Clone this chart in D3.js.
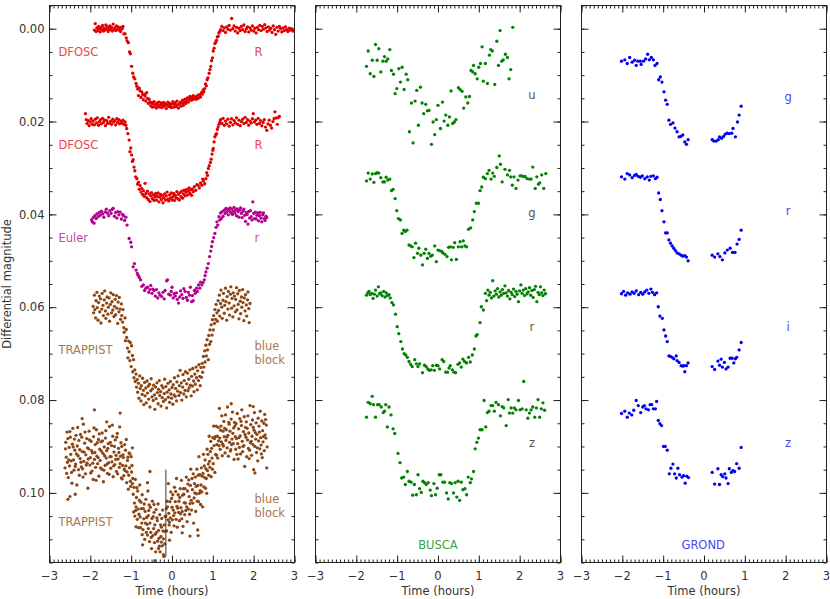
<!DOCTYPE html>
<html><head><meta charset="utf-8">
<script src="https://cdn.jsdelivr.net/npm/d3@7"></script>
<style>body{margin:0;background:#fff}svg{display:block}</style>
</head><body>
<svg id="chart" width="830" height="599"></svg>
<script>
// ---- axis ticks ----
const xTicks=[-3,-2,-1,0,1,2,3];
const xTickLabels=["\u22123","\u22122","\u22121","0","1","2","3"];
const yTickValues=[0,20,40,60,80,100];            // milli-magnitudes
const yTickLabels=["0.00","0.02","0.04","0.06","0.08","0.10"];

// ---- data: flat pairs [time (hours), differential magnitude (mmag)] ----
const dfoscR1=[-1.90,0.3,-1.88,-1.1,-1.86,0.6,-1.84,-0.2,-1.82,0.4,-1.80,-0.5,-1.78,0.1,-1.76,0.7,-1.74,-0.3,-1.72,0.2,-1.70,-0.7,-1.68,0.5,-1.66,-0.1,-1.64,0.3,-1.62,-0.8,-1.60,0.1,-1.58,-0.4,-1.56,0.6,-1.54,0.0,-1.52,-0.6,-1.50,0.2,-1.48,-0.3,-1.46,0.5,-1.44,-1.0,-1.42,0.1,-1.40,-0.2,-1.38,0.4,-1.36,-0.6,-1.34,0.2,-1.32,-0.4,-1.30,0.3,-1.28,-0.1,-1.26,0.6,-1.24,-0.3,-1.22,0.0,-1.20,-0.5,-1.18,1.1,
-1.15,1.1,-1.12,2.0,-1.10,2.6,-1.07,3.0,-1.04,5.0,-1.02,5.4,-0.99,8.1,-0.96,9.6,-0.94,10.4,-0.91,10.8,-0.88,11.8,-0.86,12.4,-0.84,13.0,-0.82,14.4,-0.80,12.8,-0.78,13.4,-0.76,14.8,-0.74,13.6,-0.72,14.2,-0.70,15.3,-0.68,14.1,-0.66,14.5,-0.64,15.6,-0.62,13.8,-0.60,15.0,-0.58,16.1,-0.56,15.2,-0.54,15.8,
-0.52,16.6,-0.50,15.9,-0.48,16.9,-0.46,16.2,-0.44,15.7,-0.42,16.8,-0.40,16.3,-0.38,17.1,-0.36,16.0,-0.34,16.6,-0.32,15.8,-0.30,16.9,-0.28,16.4,-0.26,16.0,-0.24,17.0,-0.22,16.5,-0.20,15.9,-0.18,16.7,-0.16,16.2,-0.14,17.2,-0.12,16.4,-0.10,15.8,-0.08,16.8,-0.06,16.1,-0.04,16.6,-0.02,17.0,0.00,16.2,0.02,15.7,0.04,16.9,0.06,16.3,0.08,16.0,0.10,16.8,0.12,15.6,0.14,16.4,0.16,17.1,0.18,16.2,0.20,15.8,0.22,16.7,0.24,16.0,0.26,15.4,0.28,16.5,0.30,15.9,0.32,15.2,0.34,16.1,0.36,15.5,0.38,14.9,0.40,15.8,0.42,15.1,0.44,14.6,0.46,15.4,0.48,14.8,0.50,15.3,0.52,14.4,0.54,15.0,
0.56,14.8,0.58,15.2,0.60,14.6,0.62,15.1,0.64,14.3,0.66,14.9,0.68,14.2,0.70,14.7,0.72,13.8,0.74,14.1,0.76,13.2,0.78,13.6,0.80,12.9,0.82,11.9,0.84,12.3,0.86,11.0,0.88,10.6,0.91,9.6,0.93,8.8,0.95,8.1,0.97,6.9,0.99,6.3,1.01,4.8,1.03,4.2,1.05,3.2,1.07,2.9,1.09,2.5,1.11,1.8,1.13,1.6,1.15,0.9,1.17,0.6,
1.19,0.2,1.22,-0.5,1.25,0.4,1.28,-0.2,1.31,0.8,1.34,-0.4,1.37,0.1,1.40,-0.7,1.43,0.3,1.46,-2.2,1.49,0.0,1.52,-0.6,1.55,0.5,1.58,-0.3,1.61,0.9,1.64,-0.1,1.67,0.4,1.70,-0.5,1.73,0.2,1.76,-0.8,1.79,0.6,1.82,0.0,1.85,-0.4,1.88,0.7,1.91,-0.2,1.94,0.3,1.97,-0.6,2.00,0.5,2.03,-0.1,2.06,0.9,2.09,-0.3,2.12,0.2,2.15,-0.7,2.18,0.4,2.21,-0.5,2.24,0.1,2.27,-0.9,2.30,-0.2,2.33,0.6,2.36,-0.4,2.39,0.3,2.42,-0.1,2.45,0.8,2.48,-0.6,2.51,0.2,2.54,1.2,2.57,-0.3,2.60,0.5,2.63,-0.5,2.66,0.0,2.69,0.7,2.72,-0.2,2.75,0.4,2.78,-0.4,2.81,0.2,2.84,0.6,2.87,-0.1,2.90,0.3,2.93,0.0,2.96,0.5];

const dfoscR2=[-2.12,18.3,-2.10,19.6,-2.08,20.4,-2.05,19.8,-2.03,20.9,-2.00,20.1,-1.98,19.4,-1.95,20.6,-1.93,19.9,-1.90,20.7,-1.88,19.5,-1.85,20.3,-1.83,19.2,-1.80,20.8,-1.78,20.0,-1.75,19.6,-1.73,20.5,-1.70,19.3,-1.68,20.2,-1.65,19.7,-1.63,20.9,-1.60,19.8,-1.58,20.4,-1.55,19.1,-1.53,20.3,-1.50,19.9,-1.48,20.6,-1.45,19.5,-1.43,20.1,-1.40,19.8,-1.38,20.7,-1.35,19.4,-1.33,20.2,-1.30,19.6,-1.28,20.5,-1.25,19.9,-1.23,20.3,-1.20,19.7,-1.18,20.6,-1.15,20.1,-1.13,20.8,
-1.11,21.5,-1.08,22.6,-1.05,24.0,-1.03,26.5,-1.01,25.7,-0.99,27.2,-0.97,28.6,-0.95,28.2,-0.93,29.8,-0.91,30.6,-0.89,31.9,-0.86,32.3,-0.84,33.5,-0.82,33.1,-0.80,34.6,-0.78,33.8,-0.76,35.2,-0.74,34.4,-0.72,35.7,-0.70,34.9,-0.68,36.1,-0.66,33.3,-0.64,35.5,
-0.62,36.4,-0.60,35.0,-0.58,36.8,-0.56,35.6,-0.54,37.2,-0.52,36.0,-0.50,35.3,-0.48,36.6,-0.46,35.8,-0.44,37.0,-0.42,36.2,-0.40,35.5,-0.38,36.9,-0.36,36.1,-0.34,35.4,-0.32,37.3,-0.30,36.3,-0.28,35.7,-0.26,36.8,-0.24,35.9,-0.22,37.5,-0.20,36.4,-0.18,35.6,-0.16,36.9,-0.14,36.0,-0.12,35.2,-0.10,36.7,-0.08,37.1,-0.06,35.8,-0.04,36.5,-0.02,35.4,0.00,36.9,0.02,36.2,0.04,35.5,0.06,37.0,0.08,35.9,0.10,36.4,0.12,35.1,0.14,36.6,0.16,35.7,0.18,36.9,0.20,35.3,0.22,36.2,0.24,35.0,0.26,36.5,0.28,35.6,0.30,34.8,0.32,36.0,0.34,35.2,0.36,34.6,0.38,35.8,0.40,35.0,0.42,34.3,0.44,35.5,0.46,34.7,0.48,35.9,0.50,34.5,
0.52,35.1,0.55,34.0,0.58,34.8,0.61,33.6,0.64,33.7,0.67,34.3,0.70,33.2,0.73,33.7,0.75,32.4,0.77,32.8,0.80,33.4,0.83,32.3,0.85,31.0,0.87,31.6,0.89,30.1,0.91,29.5,0.94,28.8,0.96,28.1,0.98,27.0,1.00,26.2,1.01,25.8,1.03,24.4,1.05,23.3,1.07,22.9,1.09,22.6,1.11,21.7,1.13,21.2,1.15,20.6,1.17,20.1,
1.19,19.6,1.22,20.4,1.25,19.3,1.28,20.8,1.31,19.9,1.34,20.5,1.37,19.5,1.40,21.0,1.43,20.2,1.46,19.4,1.49,20.7,1.52,19.8,1.55,20.3,1.58,19.2,1.61,20.6,1.64,19.7,1.67,20.9,1.70,20.0,1.73,19.5,1.76,20.4,1.79,19.1,1.82,20.2,1.85,19.6,1.88,20.8,1.91,19.9,1.94,20.3,1.97,19.4,1.99,18.3,2.02,20.1,2.05,19.7,2.08,20.6,2.11,19.3,2.14,20.4,2.17,19.8,2.20,20.9,2.23,20.2,2.26,19.6,2.29,21.2,2.32,21.9,2.35,20.5,2.38,19.7,2.41,20.8,2.44,21.4,2.47,20.0,2.50,19.4,2.52,17.9,2.55,19.2,2.58,20.6,2.60,19.2,2.63,18.9];

const eulerR=[-1.97,41.2,-1.95,41.6,-1.93,40.7,-1.91,41.9,-1.89,40.3,-1.86,40.9,-1.84,39.9,-1.81,40.5,-1.78,39.6,-1.76,40.2,-1.73,39.3,-1.70,39.9,-1.67,40.6,-1.64,39.5,-1.61,38.9,-1.58,39.7,-1.55,40.3,-1.52,39.2,-1.49,39.8,-1.46,38.9,-1.44,38.7,-1.41,40.4,-1.38,39.6,-1.35,40.8,-1.33,39.4,-1.30,40.1,-1.27,39.5,-1.24,41.0,-1.21,40.0,-1.19,40.3,-1.16,41.3,-1.13,40.6,-1.10,42.3,
-1.05,45.2,-1.01,46.0,-0.99,47.0,-0.95,51.3,-0.92,50.6,-0.88,52.0,-0.85,52.7,-0.83,53.1,-0.80,53.6,-0.77,54.1,-0.74,55.5,-0.70,55.2,-0.67,56.4,-0.64,55.9,
-0.60,55.7,-0.57,56.8,-0.54,56.2,-0.52,55.3,-0.49,57.0,-0.47,56.1,-0.44,56.4,-0.41,57.6,-0.38,56.2,-0.35,58.0,-0.32,56.9,-0.29,57.4,-0.25,57.7,-0.22,56.8,-0.19,58.2,-0.17,56.4,-0.13,54.3,-0.11,54.1,-0.08,57.2,-0.04,57.4,-0.02,56.6,0.00,55.7,0.03,58.0,0.05,57.1,0.08,57.6,0.11,56.9,0.13,58.3,0.16,59.1,0.19,57.8,0.21,56.5,0.24,57.3,0.27,58.1,0.29,56.0,0.32,56.6,0.35,57.9,0.38,58.5,0.40,56.8,0.43,57.4,0.45,55.7,0.48,58.8,0.50,57.5,0.52,58.6,0.55,56.4,0.57,57.0,0.60,55.9,0.62,56.6,0.65,55.2,0.68,55.9,0.70,54.6,0.73,55.2,
0.76,54.7,0.79,54.1,0.81,53.2,0.83,52.4,0.86,51.6,0.89,50.6,0.92,49.1,0.95,47.9,0.97,46.9,0.99,45.9,1.02,45.0,1.05,44.1,1.08,42.8,1.10,41.6,1.12,42.3,
1.15,40.5,1.17,41.2,1.19,39.7,1.21,40.9,1.23,39.4,1.25,40.4,1.28,39.1,1.30,39.8,1.32,38.7,1.34,39.5,1.36,38.9,1.38,40.1,1.40,39.2,1.42,38.6,1.44,39.6,1.46,38.8,1.48,40.0,1.50,39.3,1.52,38.5,1.54,39.7,1.56,39.0,1.58,40.3,1.60,38.8,1.62,39.4,1.64,40.6,1.66,39.1,1.68,38.6,1.70,39.8,1.72,40.7,1.74,39.3,1.76,38.9,1.78,40.2,1.80,41.5,1.82,39.6,1.84,40.0,1.86,42.1,1.88,39.4,1.90,40.8,1.92,39.2,1.94,40.5,1.96,41.2,1.98,37.3,2.00,39.8,2.02,40.9,2.04,39.5,2.06,41.0,2.08,40.2,2.10,39.7,2.12,41.4,2.14,40.3,2.16,39.6,2.18,40.8,2.20,41.6,2.22,40.1,2.24,39.7,2.26,40.9,2.28,41.3,2.30,40.4,2.32,40.7];

const trappistBB1=[-1.93,59.8,-1.92,61.2,-1.90,57.4,-1.89,60.5,-1.87,62.3,-1.86,58.6,-1.84,56.8,-1.83,60.1,-1.81,62.8,-1.80,59.0,-1.78,57.6,-1.77,61.0,-1.75,58.2,-1.74,63.4,-1.72,60.4,-1.71,57.0,-1.69,59.6,-1.68,61.8,-1.66,58.4,-1.65,56.5,-1.63,60.8,-1.62,62.4,-1.60,59.1,-1.59,57.8,-1.57,61.5,-1.56,60.0,-1.54,58.0,-1.53,63.0,-1.51,59.4,-1.50,56.9,-1.48,61.2,-1.47,58.8,-1.45,60.6,-1.44,57.3,-1.42,62.0,-1.41,59.8,-1.39,58.3,-1.38,61.6,-1.36,57.5,-1.35,60.2,-1.33,63.5,-1.32,58.9,-1.30,61.0,-1.29,57.9,-1.27,60.4,-1.26,62.6,-1.24,59.3,-1.23,61.8,-1.21,63.2,-1.20,60.5,-1.18,64.4,-1.17,65.4,-1.15,62.3,-1.14,67.2,-1.12,64.8,-1.11,66.5,-1.09,68.8,
-1.08,70.9,-1.06,67.3,-1.05,69.6,-1.03,71.5,-1.02,67.6,-1.00,72.8,-0.99,68.3,-0.97,70.4,-0.96,73.9,-0.94,71.3,-0.93,75.2,-0.91,73.5,-0.90,76.0,-0.88,74.4,-0.87,77.2,
-0.85,75.6,-0.84,78.3,-0.82,76.4,-0.81,79.6,-0.79,74.8,-0.78,77.5,-0.76,80.2,-0.75,76.9,-0.73,78.8,-0.72,75.3,-0.70,77.9,-0.69,81.0,-0.67,76.2,-0.66,79.1,-0.64,77.4,-0.63,80.6,-0.61,75.9,-0.60,78.5,-0.58,77.0,-0.57,79.8,-0.55,76.6,-0.54,81.5,-0.52,78.0,-0.51,75.4,-0.49,79.3,-0.48,77.6,-0.46,80.1,-0.45,76.8,-0.43,78.9,-0.42,82.0,-0.40,77.2,-0.39,79.7,-0.37,76.3,-0.36,78.4,-0.34,80.8,-0.33,77.7,-0.31,75.8,-0.30,79.0,-0.28,78.2,-0.27,81.3,-0.25,76.9,-0.24,79.5,-0.22,77.4,-0.21,80.3,-0.19,78.6,-0.18,75.5,-0.16,79.9,-0.15,77.1,-0.13,81.7,-0.12,78.3,-0.10,76.4,-0.09,79.4,-0.07,77.8,-0.06,80.5,-0.04,76.0,-0.03,78.7,-0.01,79.6,0.00,77.3,0.02,80.9,0.03,76.7,0.05,78.9,0.06,75.2,0.08,79.2,0.09,77.5,0.11,80.2,0.12,76.1,0.14,78.1,0.15,74.8,0.17,79.0,0.18,76.9,0.20,73.6,0.21,78.4,0.23,76.3,0.24,80.0,0.26,77.2,0.27,74.5,0.29,78.7,0.30,75.8,0.32,77.9,0.33,73.9,0.35,79.3,0.36,76.5,0.38,74.2,0.39,78.0,0.41,75.5,0.42,77.4,0.44,73.5,0.45,76.8,0.47,79.1,0.48,74.9,0.50,77.0,0.51,73.2,0.53,75.9,0.54,78.2,0.56,74.4,0.57,76.6,0.59,72.9,0.60,75.2,0.62,77.8,0.63,73.7,0.65,75.8,0.66,72.4,0.68,74.9,0.69,76.9,0.71,73.0,0.72,75.1,
0.74,72.1,0.75,74.0,0.77,70.6,0.78,72.9,0.80,69.4,0.81,71.8,0.83,68.2,0.84,70.5,0.86,67.0,0.87,69.2,0.89,71.3,0.90,66.1,0.92,68.0,0.93,64.9,0.95,67.4,0.96,63.8,0.98,66.0,0.99,62.7,1.01,64.9,1.02,61.8,1.04,63.5,1.05,60.5,1.07,62.6,1.08,59.4,1.10,61.2,1.11,63.0,1.13,58.6,
1.14,60.7,1.16,57.4,1.17,61.9,1.19,59.2,1.20,56.3,1.22,60.0,1.23,62.4,1.25,58.5,1.26,57.0,1.28,61.3,1.29,59.6,1.31,55.9,1.32,58.8,1.34,62.8,1.35,57.7,1.37,60.4,1.38,56.6,1.40,59.1,1.41,61.7,1.43,57.2,1.44,55.6,1.46,60.2,1.47,58.1,1.49,62.1,1.50,56.9,1.52,59.7,1.53,57.6,1.55,61.0,1.56,58.3,1.58,55.8,1.59,60.6,1.61,57.1,1.62,59.4,1.64,62.5,1.65,56.4,1.67,58.7,1.68,61.4,1.70,57.8,1.71,60.0,1.73,56.2,1.74,59.0,1.76,62.9,1.77,58.0,1.79,60.8,1.80,57.3,1.82,59.5,1.83,61.9,1.85,58.4,1.86,56.7,1.88,60.3,1.89,63.3,1.91,59.2];

const trappistBB2=[-2.62,94.6,-2.60,89.1,-2.59,92.3,-2.57,86.9,-2.56,93.4,-2.54,96.7,-2.52,90.2,-2.51,94.2,-2.49,88.0,-2.48,91.7,-2.46,95.6,-2.44,89.5,-2.43,86.1,-2.41,92.9,-2.40,95.1,-2.38,90.8,-2.36,93.8,-2.35,87.6,-2.33,98.3,-2.32,89.9,-2.30,92.0,-2.28,88.7,-2.27,96.2,-2.25,92.6,-2.24,87.4,-2.22,94.4,-2.20,91.1,-2.19,94.8,-2.17,85.2,-2.16,93.2,-2.14,89.3,-2.12,95.9,-2.11,91.8,-2.09,88.3,-2.08,93.6,-2.06,99.0,-2.04,90.5,-2.03,86.7,-2.01,94.0,-2.00,92.4,-1.98,88.9,-1.96,95.3,-1.95,91.4,-1.93,97.1,-1.92,87.9,-1.90,92.8,-1.88,89.6,-1.87,94.5,-1.85,86.4,-1.84,92.1,-1.82,93.7,-1.80,88.5,-1.79,96.4,-1.77,90.6,-1.76,93.0,-1.74,89.0,-1.72,94.9,-1.71,87.1,-1.69,91.5,-1.68,97.6,-1.66,90.1,-1.64,94.1,-1.63,88.2,-1.61,92.5,-1.60,90.9,-1.58,95.8,-1.56,89.4,-1.55,93.5,-1.53,85.7,-1.52,92.2,-1.50,94.7,-1.48,89.8,-1.47,93.3,-1.45,87.8,-1.44,96.5,-1.42,91.2,-1.40,93.9,-1.39,88.6,-1.37,91.9,-1.36,95.4,-1.34,87.2,-1.32,92.7,-1.31,90.4,-1.29,94.5,-1.28,85.8,-1.26,92.1,-1.24,96.8,-1.23,90.0,-1.21,94.1,-1.20,91.8,-1.18,96.3,-1.16,89.6,-1.15,95.2,-1.13,94.2,-1.12,88.5,-1.10,95.5,-1.08,92.3,-1.07,99.2,-1.05,91.4,-1.04,94.6,-1.02,97.5,-1.00,92.2,-0.99,95.5,-0.97,90.3,-0.96,96.9,
-2.61,90.5,-2.58,95.8,-2.55,88.3,-2.53,92.9,-2.50,86.8,-2.47,93.1,-2.45,97.9,-2.42,90.1,-2.39,88.4,-2.37,94.3,-2.34,91.6,-2.31,85.9,-2.29,95.0,-2.26,90.7,-2.23,93.4,-2.21,88.0,-2.18,96.6,-2.15,91.2,-2.13,86.9,-2.10,94.0,-2.07,90.3,-2.05,92.7,-2.02,88.6,-1.99,95.7,-1.97,90.9,-1.94,93.6,-1.91,86.0,-1.89,91.3,-1.86,97.3,-1.83,89.2,-1.81,92.4,-1.78,87.3,-1.75,94.6,-1.73,91.0,-1.70,88.8,-1.67,95.1,-1.65,92.0,-1.62,86.6,-1.59,93.8,-1.57,90.4,-1.54,96.0,-1.51,89.1,-1.49,92.2,-1.46,85.4,-1.43,94.2,-1.41,90.0,-1.38,92.8,-1.35,88.0,-1.33,95.9,-1.30,91.3,-1.27,93.7,-1.25,89.2,-1.22,97.0,-1.19,92.4,-1.17,94.9,-1.14,90.8,-1.11,97.8,-1.09,93.0,-1.06,96.2,-1.03,91.6,-1.01,98.6,-0.98,94.1,
-1.90,82.1,-2.55,101.4,-2.37,100.3,-1.27,82.8,-2.50,100.8,-2.20,84.0,-1.60,84.7,
-0.94,104.1,-0.93,98.8,-0.92,102.2,-0.90,97.1,-0.89,103.8,-0.88,107.3,-0.87,101.0,-0.85,105.7,-0.84,99.6,-0.83,103.5,-0.82,107.5,-0.80,101.6,-0.79,98.3,-0.78,105.2,-0.77,107.5,-0.75,103.4,-0.74,106.5,-0.73,100.4,-0.72,111.2,-0.70,103.4,-0.69,105.6,-0.68,102.4,-0.67,110.0,-0.65,106.5,-0.64,101.4,-0.63,108.5,-0.62,105.3,-0.60,109.1,-0.59,99.6,-0.58,107.7,-0.57,103.8,-0.55,110.5,-0.54,106.5,-0.53,103.1,-0.52,108.5,-0.50,112.0,-0.49,105.5,-0.48,101.8,-0.47,109.2,-0.45,107.7,-0.44,104.2,-0.43,110.7,-0.42,106.9,-0.40,112.7,-0.39,103.6,-0.38,108.5,-0.37,105.4,-0.35,110.4,-0.34,102.4,-0.33,108.1,-0.32,109.8,-0.30,104.7,-0.29,112.7,-0.28,106.9,-0.27,109.4,-0.25,105.5,-0.24,111.4,-0.23,103.7,-0.22,108.2,-0.20,113.7,-0.19,106.9,-0.18,111.0,-0.17,105.1,
-0.95,100.3,-0.91,105.0,-0.86,98.9,-0.81,104.6,-0.76,102.0,-0.71,107.9,-0.66,104.0,-0.61,106.8,-0.56,102.6,-0.51,109.6,-0.46,105.1,-0.41,108.9,-0.36,106.0,-0.31,111.5,-0.26,107.4,-0.21,109.9,-0.18,108.3,-0.88,103.0,-0.73,109.0,-0.58,104.9,-0.44,102.5,-0.33,112.0,-0.26,110.6,
-0.54,95.4,-0.97,98.0,-0.42,114.6,-0.21,113.3,-0.60,97.8,
-0.15,105.0,-0.14,103.4,-0.13,108.2,-0.12,101.8,-0.10,105.8,-0.09,98.0,-0.08,104.4,-0.07,106.9,-0.05,101.9,-0.04,105.4,-0.03,99.8,-0.02,108.5,0.00,103.1,0.01,105.8,0.02,100.4,0.03,103.7,0.05,107.1,0.06,98.8,0.07,104.3,0.08,101.9,0.10,105.7,0.11,96.9,0.12,102.9,0.13,107.4,0.15,100.4,0.16,104.2,0.17,101.8,0.18,106.0,0.20,99.1,0.21,104.5,0.22,103.2,0.23,97.3,0.25,104.0,0.26,100.5,0.27,107.2,0.28,99.1,0.30,102.1,0.31,104.7,0.32,99.1,0.33,102.2,0.35,96.6,0.36,103.0,0.37,106.2,0.38,99.6,0.40,103.5,0.41,97.2,0.42,100.8,0.43,104.6,0.45,98.4,0.46,94.9,0.47,101.6,0.48,103.7,0.50,99.3,0.51,102.2,0.52,95.9,0.53,106.5,0.55,98.0,0.56,100.0,0.57,96.6,0.58,104.0,0.60,100.2,0.61,94.9,0.62,101.8,0.63,98.4,0.65,101.9,0.66,92.2,0.67,100.1,0.68,96.1,0.70,102.5,0.71,98.3,0.72,94.6,0.73,99.8,0.75,103.0,
-0.11,103.0,-0.06,106.3,-0.01,101.2,0.04,104.9,0.09,99.7,0.14,103.3,0.19,101.0,0.24,105.6,0.29,100.3,0.34,103.8,0.39,98.1,0.44,102.3,0.49,96.9,0.54,101.1,0.59,98.6,0.64,96.2,0.69,99.5,0.74,96.4,
0.64,109.2,0.44,109.3,0.63,108.0,-0.06,110.2,0.25,108.6,
0.76,95.8,0.77,91.7,0.78,98.7,0.80,96.7,0.81,92.9,0.82,99.0,0.83,94.8,0.85,100.1,0.86,90.6,0.87,95.2,0.88,91.7,0.90,96.2,0.91,87.8,0.92,93.2,0.93,94.5,0.95,88.9,0.96,96.5,0.97,90.4,0.98,92.5,1.00,88.1,1.01,93.7,1.02,85.6,1.03,89.8,1.05,95.6,1.06,87.9,1.07,91.7,1.08,85.6,1.10,89.6,1.11,87.8,1.12,92.5,1.13,85.9,1.15,89.8,1.16,81.8,1.17,88.2,1.18,90.6,1.20,85.6,1.21,89.0,1.22,83.4,1.23,92.0,1.25,86.7,
1.26,89.9,1.27,84.6,1.28,87.9,1.30,91.4,1.31,83.2,1.32,88.7,1.33,86.4,1.35,90.3,1.36,81.5,1.37,87.6,1.38,92.1,1.40,85.2,1.41,89.1,1.42,86.7,1.43,91.0,1.45,84.1,1.46,89.6,1.47,88.4,1.48,82.6,1.50,89.4,1.51,86.0,1.52,92.8,1.53,84.8,1.55,87.9,1.56,90.6,1.57,85.1,1.58,88.3,1.60,82.9,1.61,89.4,1.62,92.7,1.63,86.2,1.65,90.2,1.66,84.0,1.67,87.7,1.68,91.6,1.70,85.5,1.71,82.1,1.72,88.9,1.73,91.1,1.75,86.8,1.76,89.8,1.77,83.6,1.78,94.3,1.80,85.9,1.81,88.0,1.82,84.7,1.83,92.2,1.85,88.6,1.86,83.4,1.87,90.4,1.88,87.1,1.90,90.8,1.91,81.2,1.92,89.2,1.93,85.3,1.95,91.9,1.96,87.8,1.97,84.3,1.98,89.6,2.00,95.0,2.01,86.5,2.02,82.7,2.03,90.0,2.05,88.4,2.06,84.9,2.07,91.3,2.08,87.4,2.10,93.1,2.11,83.9,2.12,88.8,2.13,85.6,2.15,90.5,2.16,82.4,2.17,88.1,2.18,89.7,2.20,84.5,2.21,92.4,2.22,86.6,2.23,89.0,2.25,85.0,2.26,90.9,2.27,83.1,2.28,87.5,2.30,88.2,2.31,85.4,2.33,90.1,
0.79,94.2,0.84,96.9,0.89,93.8,0.94,91.1,0.99,94.9,1.04,88.3,1.09,91.9,1.14,88.8,1.19,86.5,1.24,89.5,1.29,86.1,1.34,88.0,1.39,84.8,1.44,90.7,1.49,87.2,1.54,85.6,1.59,91.7,1.64,88.1,1.69,84.6,1.74,90.0,1.79,87.4,1.84,86.1,1.89,92.6,1.94,88.9,1.99,85.9,2.04,87.0,2.09,90.3,2.14,86.9,2.19,91.6,2.24,87.9,2.29,84.2,
1.99,81.4,2.03,95.7,2.32,94.6,1.45,80.8];

const buscaU=[-1.75,8.1,-1.71,4.8,-1.66,9.7,-1.61,6.8,-1.57,10.3,-1.53,3.4,-1.49,6.8,-1.45,4.3,-1.40,9.3,-1.35,7.0,-1.31,6.0,-1.27,7.0,-1.23,6.5,-1.18,4.5,-1.14,9.0,-1.09,9.8,-1.05,14.0,-1.01,12.9,-0.96,8.6,-0.92,11.5,-0.88,8.3,-0.83,13.1,-0.78,9.8,-0.74,11.0,-0.70,22.2,-0.65,16.0,-0.61,24.6,-0.56,15.6,-0.52,13.3,-0.48,20.8,-0.43,12.6,-0.39,16.0,-0.35,18.3,-0.30,16.3,-0.26,17.7,-0.22,17.6,-0.16,24.9,-0.12,20.1,-0.08,22.8,-0.04,19.6,0.00,16.5,0.06,21.5,0.11,15.8,0.15,19.9,0.19,18.6,0.24,20.8,0.28,19.0,0.32,13.4,0.36,20.4,0.40,20.1,0.44,19.6,0.50,12.7,0.54,13.1,0.59,13.5,0.63,17.1,0.68,14.7,0.73,16.0,0.77,14.6,0.81,9.0,0.85,9.3,0.87,7.9,0.91,9.7,0.96,10.8,1.00,8.3,1.04,7.5,1.08,3.9,1.11,11.3,1.16,7.5,1.21,11.8,1.26,5.7,1.29,4.5,1.33,4.8,1.39,12.0,1.44,2.7,1.48,7.9,1.52,0.4,1.56,7.0,1.60,6.7,1.65,5.5,1.70,6.2,1.74,10.8,1.78,8.8,1.83,-0.3];

const buscaG=[-1.75,32.8,-1.71,31.1,-1.66,32.4,-1.61,31.3,-1.57,33.1,-1.53,31.2,-1.49,31.0,-1.45,31.1,-1.40,32.1,-1.35,33.0,-1.31,33.0,-1.27,32.0,-1.23,32.6,-1.18,32.4,-1.14,34.9,-1.10,34.6,-1.05,36.6,-1.01,39.2,-0.97,40.9,-0.92,41.2,-0.88,44.1,-0.84,43.4,-0.80,43.7,-0.76,43.4,-0.71,46.6,-0.67,46.8,-0.63,47.0,-0.59,49.3,-0.55,46.2,-0.50,48.4,-0.47,47.3,-0.42,48.8,-0.38,50.9,-0.34,48.4,-0.30,47.5,-0.26,49.5,-0.22,48.4,-0.18,49.0,-0.14,48.8,-0.08,46.8,-0.04,50.2,0.00,47.7,0.04,47.8,0.09,48.0,0.12,48.3,0.17,48.6,0.22,49.1,0.26,47.1,0.30,47.0,0.33,49.8,0.37,47.1,0.41,46.1,0.45,49.7,0.50,47.0,0.54,45.9,0.58,47.0,0.62,45.7,0.66,46.8,0.70,47.0,0.75,43.2,0.80,42.9,0.85,41.2,0.89,39.4,0.94,37.6,0.99,37.6,1.03,34.9,1.07,34.1,1.11,32.0,1.16,32.3,1.21,31.2,1.25,30.5,1.30,32.4,1.34,31.1,1.38,31.8,1.44,29.9,1.50,27.4,1.53,29.2,1.57,33.0,1.64,30.3,1.70,31.5,1.75,30.5,1.78,31.9,1.82,33.7,1.86,31.9,1.91,34.4,1.96,32.6,2.01,31.7,2.05,31.7,2.10,31.9,2.13,31.8,2.18,32.3,2.24,32.4,2.28,32.4,2.32,29.8,2.38,34.4,2.42,31.9,2.46,33.5,2.49,33.2,2.54,31.5,2.59,34.4,2.64,31.2];

const buscaR=[-1.75,57.4,-1.72,56.9,-1.69,56.6,-1.66,57.3,-1.62,57.0,-1.59,58.1,-1.56,57.2,-1.53,56.3,-1.49,57.6,-1.46,55.6,-1.43,57.1,-1.40,56.9,-1.37,57.5,-1.33,56.6,-1.30,57.8,-1.27,56.9,-1.24,57.5,-1.20,57.3,-1.17,58.0,
-1.13,59.0,-1.09,59.5,-1.04,61.5,-1.00,64.2,-0.96,65.7,-0.91,67.4,-0.87,69.0,-0.83,70.0,-0.79,70.3,-0.75,70.8,-0.71,71.7,-0.67,72.3,-0.63,72.8,-0.57,71.3,-0.53,72.2,-0.49,72.8,-0.45,72.2,-0.38,74.1,-0.33,72.5,-0.29,72.8,-0.25,73.3,-0.21,73.6,-0.17,73.5,-0.13,72.6,-0.09,73.6,-0.04,72.5,0.00,72.6,0.04,73.3,0.10,71.3,0.14,71.7,0.19,74.0,0.23,74.0,0.27,73.1,0.30,72.6,0.35,73.5,0.39,74.0,0.43,74.1,0.49,72.3,0.53,72.0,0.57,72.9,0.61,71.2,0.65,71.7,0.70,72.0,0.75,70.8,0.79,71.8,0.84,70.3,0.89,69.0,0.93,66.2,0.96,65.9,1.03,63.3,1.06,59.9,1.11,60.6,
1.16,57.0,1.19,58.6,1.22,56.3,1.25,57.4,1.28,56.8,1.31,58.0,1.34,54.3,1.37,57.6,1.40,56.5,1.43,57.2,1.46,56.0,1.49,57.8,1.52,56.7,1.55,57.4,1.58,56.2,1.61,57.0,1.64,55.4,1.67,56.9,1.70,57.6,1.73,56.4,1.76,58.2,1.79,56.8,1.82,57.3,1.85,56.1,1.88,57.7,1.91,56.6,1.94,57.2,1.97,58.8,2.00,56.5,2.03,55.2,2.06,57.0,2.09,56.3,2.12,57.5,2.15,56.0,2.18,57.1,2.21,56.7,2.24,55.8,2.27,57.4,2.30,56.4,2.33,57.9,2.36,56.2,2.39,55.5,2.42,58.8,2.45,56.8,2.48,57.3,2.51,55.6,2.54,56.9,2.57,57.5,2.60,56.3,2.63,57.1];

const buscaZ=[-1.75,83.7,-1.71,80.5,-1.66,80.8,-1.61,79.2,-1.58,81.0,-1.53,83.7,-1.48,81.0,-1.44,81.0,-1.39,81.5,-1.34,82.7,-1.31,82.4,-1.28,81.0,-1.24,85.8,-1.20,81.5,-1.15,83.2,-1.10,86.2,-1.06,87.2,-0.98,91.5,-0.93,93.5,-0.89,96.8,-0.84,96.6,-0.80,98.2,-0.75,95.4,-0.71,97.5,-0.66,97.7,-0.62,100.5,-0.58,98.2,-0.53,100.4,-0.49,96.1,-0.45,99.1,-0.41,99.9,-0.37,97.5,-0.33,97.8,-0.29,98.2,-0.24,97.8,-0.19,99.4,-0.16,100.6,-0.10,98.0,-0.06,100.4,-0.02,99.0,0.03,96.1,0.07,96.1,0.12,97.7,0.16,97.7,0.21,100.0,0.25,101.3,0.29,97.8,0.33,98.0,0.38,100.0,0.42,97.8,0.46,100.9,0.49,97.5,0.53,101.6,0.57,97.7,0.61,99.3,0.66,99.1,0.70,100.4,0.74,96.6,0.79,97.8,0.82,97.0,0.87,95.4,0.91,90.5,0.95,89.1,0.99,88.2,1.03,86.4,1.08,86.4,1.13,80.1,1.17,85.8,1.21,82.7,1.25,82.4,1.30,81.2,1.34,81.2,1.38,82.4,1.42,80.5,1.48,81.0,1.53,83.4,1.57,81.4,1.61,81.7,1.67,85.5,1.72,79.9,1.75,82.8,1.79,81.7,1.83,82.8,1.87,81.7,1.91,82.1,1.97,80.1,2.01,82.1,2.06,81.9,2.10,76.0,2.16,82.1,2.20,83.9,2.24,82.8,2.28,82.1,2.32,81.5,2.37,83.7,2.41,81.7,2.45,79.9,2.49,83.7,2.53,81.9,2.57,80.6,2.61,82.2];

const grondG=[-2.02,7.0,-1.94,6.7,-1.88,7.5,-1.82,6.2,-1.76,7.2,-1.70,6.8,-1.66,7.9,-1.62,7.0,-1.56,7.0,-1.54,7.7,-1.48,7.0,-1.43,6.5,-1.38,5.5,-1.34,6.7,-1.29,6.2,-1.24,6.7,-1.20,7.9,-1.15,7.5,-1.11,11.0,-1.07,10.4,-1.03,11.5,-0.98,13.6,-0.94,15.4,-0.90,16.3,-0.86,19.7,-0.82,20.6,-0.76,20.3,-0.71,21.4,-0.66,22.2,-0.61,23.3,-0.57,23.2,-0.52,22.9,-0.47,24.4,-0.43,24.9,-0.39,23.9,
0.20,23.9,0.24,24.2,0.30,24.2,0.35,23.9,0.38,23.3,0.43,23.6,0.48,23.2,0.52,22.7,0.57,22.5,0.62,22.6,0.68,22.5,0.71,21.5,0.77,23.3,0.82,20.1,0.86,18.6,0.91,16.7];

const grondR=[-2.02,31.9,-1.94,32.4,-1.88,31.2,-1.82,31.5,-1.76,32.1,-1.70,31.6,-1.66,31.4,-1.61,31.8,-1.56,32.0,-1.51,31.7,-1.45,32.3,-1.39,31.9,-1.34,32.6,-1.30,31.8,-1.24,31.7,-1.19,32.3,-1.15,32.0,-1.11,35.4,-1.07,36.8,-1.03,39.2,-0.98,41.6,-0.94,44.0,-0.90,44.0,-0.86,45.5,-0.82,46.2,-0.78,46.8,-0.74,47.3,-0.70,47.8,-0.66,48.3,-0.61,48.5,-0.56,48.8,-0.52,49.0,-0.47,48.9,-0.43,49.2,-0.39,50.0,
0.20,48.8,0.26,49.2,0.34,48.5,0.39,49.1,0.45,49.8,0.51,48.3,0.57,47.7,0.64,47.3,0.70,48.2,0.76,48.2,0.81,46.4,0.86,45.4,0.91,43.4];

const grondI=[-2.02,57.1,-1.97,56.6,-1.92,57.4,-1.87,56.9,-1.81,57.2,-1.76,56.7,-1.71,57.0,-1.66,56.5,-1.60,57.3,-1.55,56.8,-1.50,57.2,-1.45,56.7,-1.40,56.3,-1.35,57.0,-1.30,56.1,-1.26,56.8,-1.21,57.3,-1.16,56.9,-1.12,59.9,-1.08,61.9,-1.02,62.4,-0.98,64.9,-0.94,66.2,-0.90,67.4,-0.86,70.5,-0.82,70.6,-0.78,70.8,-0.74,71.1,-0.68,70.5,-0.66,71.5,-0.61,71.9,-0.56,72.6,-0.52,72.7,-0.49,72.6,-0.47,73.9,-0.43,72.6,-0.39,72.0,
0.20,72.8,0.26,73.4,0.34,71.6,0.38,72.5,0.42,71.2,0.45,72.9,0.50,71.9,0.54,73.3,0.59,72.9,0.64,71.0,0.69,71.0,0.73,72.0,0.77,71.1,0.80,70.8,0.86,69.2,0.91,67.6];

const grondZ=[-2.02,82.9,-1.94,82.4,-1.88,83.7,-1.83,82.8,-1.77,83.2,-1.72,82.2,-1.66,80.1,-1.61,81.2,-1.55,82.7,-1.50,81.5,-1.46,81.2,-1.42,81.9,-1.36,82.1,-1.32,81.0,-1.28,81.0,-1.24,81.9,-1.19,81.9,-1.16,80.3,-1.12,84.4,-1.08,85.1,-1.04,85.5,-0.99,90.0,-0.95,90.0,-0.90,90.8,-0.85,95.9,-0.81,94.7,-0.76,93.8,-0.72,95.9,-0.68,96.8,-0.64,94.7,-0.60,96.1,-0.54,96.6,-0.50,96.3,-0.46,97.9,-0.42,96.4,-0.38,96.7,
0.20,95.6,0.26,98.1,0.34,94.8,0.38,98.2,0.42,96.1,0.46,96.5,0.51,95.9,0.54,96.8,0.59,98.0,0.62,94.8,0.67,95.6,0.71,95.2,0.75,95.4,0.80,93.7,0.86,94.7,0.91,90.2];

// vertical marker in panel 1 (time, mmag range)
const markerTime=-0.15, markerRange=[95,113.8];

// ---- rendering ----
const RED="#e00000", MAG="#b4008c", BROWN="#8c4614", GREEN="#008200", BLUE="#0000f0";
const series=[
  {panel:0,data:dfoscR1,color:RED},{panel:0,data:dfoscR2,color:RED},{panel:0,data:eulerR,color:MAG},
  {panel:0,data:trappistBB1,color:BROWN},{panel:0,data:trappistBB2,color:BROWN},
  {panel:1,data:buscaU,color:GREEN},{panel:1,data:buscaG,color:GREEN},{panel:1,data:buscaR,color:GREEN},{panel:1,data:buscaZ,color:GREEN},
  {panel:2,data:grondG,color:BLUE},{panel:2,data:grondR,color:BLUE},{panel:2,data:grondI,color:BLUE},{panel:2,data:grondZ,color:BLUE}
];
const labels=[
  {panel:0,text:"DFOSC",t:-2.78,m:5.0,anchor:"start",color:"#e84848"},
  {panel:0,text:"R",t:2.02,m:5.0,anchor:"start",color:"#e84848"},
  {panel:0,text:"DFOSC",t:-2.78,m:25.1,anchor:"start",color:"#e84848"},
  {panel:0,text:"R",t:2.02,m:25.1,anchor:"start",color:"#e84848"},
  {panel:0,text:"Euler",t:-2.78,m:45.0,anchor:"start",color:"#c448a4"},
  {panel:0,text:"r",t:2.02,m:45.0,anchor:"start",color:"#c448a4"},
  {panel:0,text:"TRAPPIST",t:-2.78,m:69.1,anchor:"start",color:"#a8764e"},
  {panel:0,text:"blue",t:2.02,m:68.3,anchor:"start",color:"#a8764e"},
  {panel:0,text:"block",t:2.02,m:71.3,anchor:"start",color:"#a8764e"},
  {panel:0,text:"TRAPPIST",t:-2.78,m:106.2,anchor:"start",color:"#a8764e"},
  {panel:0,text:"blue",t:2.02,m:101.2,anchor:"start",color:"#a8764e"},
  {panel:0,text:"block",t:2.02,m:104.2,anchor:"start",color:"#a8764e"},
  {panel:1,text:"u",t:2.30,m:14.3,anchor:"middle",color:"#555"},
  {panel:1,text:"g",t:2.30,m:39.7,anchor:"middle",color:"#555"},
  {panel:1,text:"r",t:2.30,m:64.2,anchor:"middle",color:"#555"},
  {panel:1,text:"z",t:2.30,m:89.2,anchor:"middle",color:"#555"},
  {panel:1,text:"BUSCA",t:0.0,m:111.1,anchor:"middle",color:"#3aa43a"},
  {panel:2,text:"g",t:2.06,m:14.6,anchor:"middle",color:"#4848f0"},
  {panel:2,text:"r",t:2.06,m:39.3,anchor:"middle",color:"#4848f0"},
  {panel:2,text:"i",t:2.06,m:64.2,anchor:"middle",color:"#4848f0"},
  {panel:2,text:"z",t:2.06,m:89.2,anchor:"middle",color:"#4848f0"},
  {panel:2,text:"GROND",t:-0.02,m:111.1,anchor:"middle",color:"#4848f0"}
];

const FONT='"DejaVu Sans","Liberation Sans",Arial,sans-serif';
const svg=d3.select("#chart");
const panelLeft=[49.5,315.5,581.5], PW=245, TOP=5.5, BOT=562.5;
const y=d3.scaleLinear().domain([-5,115]).range([TOP,BOT]);
const AX="#222";
const minorX=d3.range(-30,31).map(v=>v/10);
const minorY=d3.range(-1,24).map(v=>v*5);

const xScales=panelLeft.map(L=>d3.scaleLinear().domain([-3,3]).range([L,L+PW]));

panelLeft.forEach((L,pi)=>{
  const x=xScales[pi];
  const g=svg.append("g");
  const add=(axis,tr)=>{
    const a=g.append("g").attr("transform",tr).call(axis);
    a.select(".domain").remove();
    a.selectAll("text").remove();
    a.selectAll("line").attr("stroke",AX).attr("stroke-width",1);
  };
  add(d3.axisBottom(x).tickValues(minorX).tickSize(-3).tickFormat(""),`translate(0,${BOT})`);
  add(d3.axisBottom(x).tickValues(xTicks).tickSize(-7).tickFormat(""),`translate(0,${BOT})`);
  add(d3.axisTop(x).tickValues(minorX).tickSize(-3).tickFormat(""),`translate(0,${TOP})`);
  add(d3.axisTop(x).tickValues(xTicks).tickSize(-7).tickFormat(""),`translate(0,${TOP})`);
  add(d3.axisLeft(y).tickValues(minorY).tickSize(-3).tickFormat(""),`translate(${L},0)`);
  add(d3.axisLeft(y).tickValues(yTickValues).tickSize(-7).tickFormat(""),`translate(${L},0)`);
  add(d3.axisRight(y).tickValues(minorY).tickSize(-3).tickFormat(""),`translate(${L+PW},0)`);
  add(d3.axisRight(y).tickValues(yTickValues).tickSize(-7).tickFormat(""),`translate(${L+PW},0)`);
  g.append("rect").attr("x",L).attr("y",TOP).attr("width",PW).attr("height",BOT-TOP)
    .attr("fill","none").attr("stroke",AX).attr("stroke-width",1);
  g.selectAll("text.xt").data(xTicks).join("text").attr("class","xt")
    .attr("x",d=>x(d)).attr("y",580).attr("text-anchor","middle")
    .attr("font-family",FONT).attr("font-size",11.5).attr("fill","#333")
    .text((d,i)=>xTickLabels[i]);
  g.append("text").attr("x",L+PW/2).attr("y",594.5).attr("text-anchor","middle")
    .attr("font-family",FONT).attr("font-size",11.5).attr("fill","#333").text("Time (hours)");
  if(pi===0){
    g.selectAll("text.yt").data(yTickValues).join("text").attr("class","yt")
      .attr("x",L-5).attr("y",d=>y(d)).attr("dy","0.36em").attr("text-anchor","end")
      .attr("font-family",FONT).attr("font-size",11.5).attr("fill","#333")
      .text((d,i)=>yTickLabels[i]);
  }
});

svg.append("text").attr("transform",`translate(10.5,${(TOP+BOT)/2}) rotate(-90)`)
  .attr("text-anchor","middle").attr("font-family",FONT).attr("font-size",11.5)
  .attr("fill","#333").text("Differential magnitude");

const pairs=arr=>d3.range(0,arr.length,2).map(i=>[arr[i],arr[i+1]]);
series.forEach(s=>{
  const x=xScales[s.panel];
  svg.append("g").selectAll("circle").data(pairs(s.data)).join("circle")
    .attr("cx",d=>x(d[0])).attr("cy",d=>y(d[1])).attr("r",1.65).attr("fill",s.color);
});

svg.append("line").attr("x1",xScales[0](markerTime)).attr("x2",xScales[0](markerTime))
  .attr("y1",y(markerRange[0])).attr("y2",y(markerRange[1])).attr("stroke","#333").attr("stroke-width",1);

labels.forEach(l=>{
  const x=xScales[l.panel];
  svg.append("text").attr("x",x(l.t)).attr("y",y(l.m)).attr("dy","0.36em")
    .attr("text-anchor",l.anchor).attr("font-family",FONT).attr("font-size",11.5)
    .attr("fill",l.color).text(l.text);
});
</script>
</body></html>
